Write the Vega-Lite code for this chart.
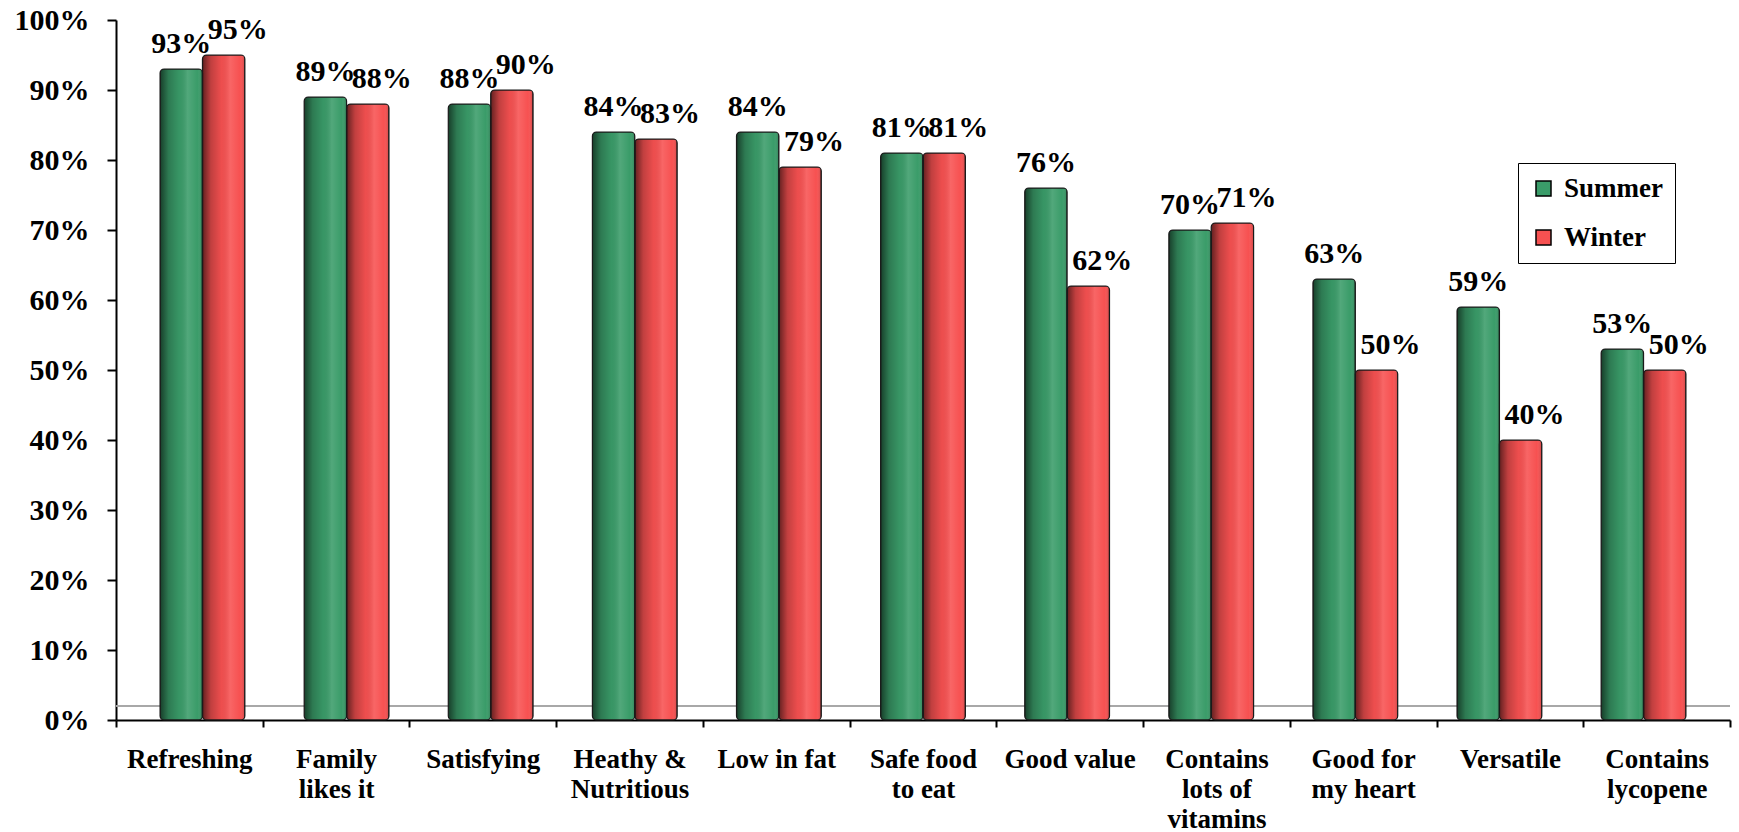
{
  "$schema": "https://vega.github.io/schema/vega-lite/v6.json",
  "width": 1614,
  "height": 700,
  "autosize": {"type": "none"},
  "padding": {"left": 116, "top": 20, "right": 9, "bottom": 112},
  "background": "white",
  "config": {"view": {"stroke": null}, "font": "Liberation Serif, Times New Roman, serif"},
  "datasets": {
    "ratings": [
      {"attribute": "Refreshing", "season": "Summer", "share": 0.93},
      {"attribute": "Refreshing", "season": "Winter", "share": 0.95},
      {"attribute": "Family\nlikes it", "season": "Summer", "share": 0.89},
      {"attribute": "Family\nlikes it", "season": "Winter", "share": 0.88},
      {"attribute": "Satisfying", "season": "Summer", "share": 0.88},
      {"attribute": "Satisfying", "season": "Winter", "share": 0.90},
      {"attribute": "Heathy &\nNutritious", "season": "Summer", "share": 0.84},
      {"attribute": "Heathy &\nNutritious", "season": "Winter", "share": 0.83},
      {"attribute": "Low in fat", "season": "Summer", "share": 0.84},
      {"attribute": "Low in fat", "season": "Winter", "share": 0.79},
      {"attribute": "Safe food\nto eat", "season": "Summer", "share": 0.81},
      {"attribute": "Safe food\nto eat", "season": "Winter", "share": 0.81},
      {"attribute": "Good value", "season": "Summer", "share": 0.76},
      {"attribute": "Good value", "season": "Winter", "share": 0.62},
      {"attribute": "Contains\nlots of\nvitamins", "season": "Summer", "share": 0.70},
      {"attribute": "Contains\nlots of\nvitamins", "season": "Winter", "share": 0.71},
      {"attribute": "Good for\nmy heart", "season": "Summer", "share": 0.63},
      {"attribute": "Good for\nmy heart", "season": "Winter", "share": 0.50},
      {"attribute": "Versatile", "season": "Summer", "share": 0.59},
      {"attribute": "Versatile", "season": "Winter", "share": 0.40},
      {"attribute": "Contains\nlycopene", "season": "Summer", "share": 0.53},
      {"attribute": "Contains\nlycopene", "season": "Winter", "share": 0.50}
    ]
  },
  "data": {"name": "ratings"},
  "layer": [
    {
      "mark": {"type": "rule", "color": "#a8a8a8", "strokeWidth": 2},
      "encoding": {"y": {"datum": 0.02, "type": "quantitative"}}
    },
    {
      "encoding": {
        "x": {
          "field": "attribute",
          "type": "nominal",
          "sort": null,
          "axis": null,
          "scale": {"paddingInner": 0, "paddingOuter": 0.1}
        },
        "xOffset": {
          "field": "season",
          "type": "nominal",
          "scale": {"domain": ["Summer", "Winter"], "paddingInner": 0, "paddingOuter": 0.7}
        },
        "y": {
          "field": "share",
          "type": "quantitative",
          "scale": {"domain": [0, 1]},
          "axis": {
            "title": null,
            "values": [0, 0.1, 0.2, 0.3, 0.4, 0.5, 0.6, 0.7, 0.8, 0.9, 1],
            "format": ".0%",
            "grid": false,
            "domainColor": "black",
            "domainWidth": 2,
            "tickColor": "black",
            "tickWidth": 2,
            "tickSize": 9,
            "labelFont": "Liberation Serif, Times New Roman, serif",
            "labelFontSize": 30,
            "labelFontWeight": "bold",
            "labelColor": "black",
            "labelPadding": 18,
            "labelFlush": false,
            "labelOverlap": false
          }
        }
      },
      "layer": [
        {
          "mark": {"type": "bar", "cornerRadius": 4},
          "encoding": {
            "color": {
              "field": "season",
              "type": "nominal",
              "scale": {"domain": ["Summer", "Winter"], "range": ["#3a9c69", "#f75151"]},
              "legend": {
                "orient": "none",
                "legendX": 1402,
                "legendY": 143,
                "title": null,
                "fillColor": "white",
                "strokeColor": "black",
                "padding": 12,
                "symbolType": "square",
                "symbolSize": 225,
                "symbolStrokeColor": "black",
                "symbolStrokeWidth": 1.5,
                "symbolOpacity": 1,
                "labelFont": "Liberation Serif, Times New Roman, serif",
                "labelFontSize": 27,
                "labelFontWeight": "bold",
                "labelColor": "black",
                "labelOffset": 7,
                "rowPadding": 21
              }
            }
          }
        },
        {
          "mark": {
            "type": "bar",
            "cornerRadius": 4,
            "stroke": "#1a1a1a",
            "strokeWidth": 1.2,
            "fill": {
              "gradient": "linear",
              "x1": 0, "y1": 0, "x2": 1, "y2": 0,
              "stops": [
                {"offset": 0, "color": "rgba(0,0,0,0.6)"},
                {"offset": 0.2, "color": "rgba(0,0,0,0.22)"},
                {"offset": 0.45, "color": "rgba(0,0,0,0.04)"},
                {"offset": 0.65, "color": "rgba(255,255,255,0.12)"},
                {"offset": 0.88, "color": "rgba(255,255,255,0)"},
                {"offset": 1, "color": "rgba(0,0,0,0.18)"}
              ]
            }
          }
        },
        {
          "transform": [{"filter": "datum.season === 'Summer'"}],
          "mark": {
            "type": "text",
            "baseline": "alphabetic",
            "dy": -16,
            "font": "Liberation Serif, Times New Roman, serif",
            "fontSize": 30,
            "fontWeight": "bold",
            "color": "black"
          },
          "encoding": {"text": {"field": "share", "type": "quantitative", "format": ".0%"}}
        },
        {
          "transform": [{"filter": "datum.season === 'Winter'"}],
          "mark": {
            "type": "text",
            "baseline": "alphabetic",
            "dx": 14,
            "dy": -16,
            "font": "Liberation Serif, Times New Roman, serif",
            "fontSize": 30,
            "fontWeight": "bold",
            "color": "black"
          },
          "encoding": {"text": {"field": "share", "type": "quantitative", "format": ".0%"}}
        }
      ]
    },
    {
      "mark": {"type": "rule", "opacity": 0},
      "encoding": {
        "x": {
          "field": "attribute",
          "type": "nominal",
          "sort": null,
          "scale": {"paddingInner": 0, "paddingOuter": 0},
          "axis": {
            "orient": "bottom",
            "title": null,
            "tickBand": "extent",
            "labelAngle": 0,
            "labelExpr": "isString(datum.value) ? split(datum.value, '\\n') : ''",
            "domainColor": "black",
            "domainWidth": 2,
            "tickColor": "black",
            "tickWidth": 2,
            "tickSize": 7,
            "labelFont": "Liberation Serif, Times New Roman, serif",
            "labelFontSize": 27,
            "labelFontWeight": "bold",
            "labelColor": "black",
            "labelPadding": 19,
            "labelLineHeight": 30,
            "labelLimit": 0,
            "labelOverlap": false
          }
        }
      }
    }
  ],
  "resolve": {"scale": {"x": "independent"}}
}
